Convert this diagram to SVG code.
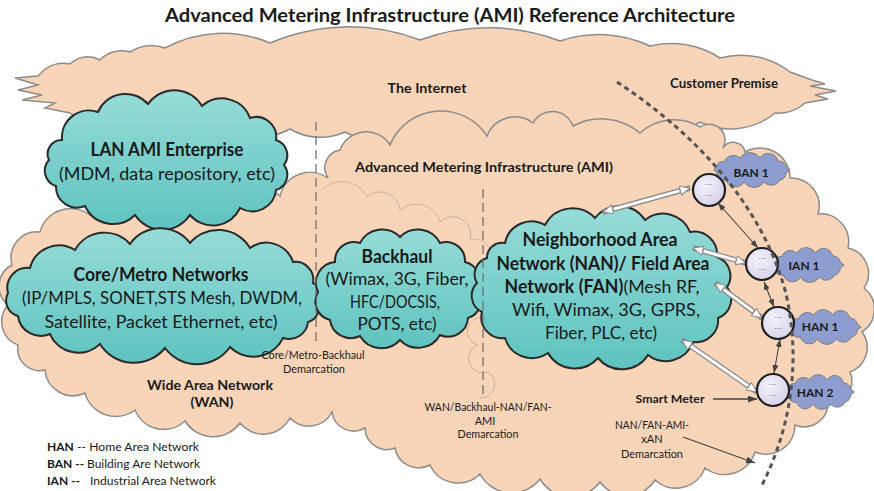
<svg xmlns="http://www.w3.org/2000/svg" width="874" height="491" viewBox="0 0 874 491">
<defs>
<style>
text{font-family:Lato,"Open Sans","Liberation Sans",sans-serif;fill:#1a1a1a;text-anchor:middle}
.b{font-weight:bold}
.peach{fill:#f8d5b8;stroke:#8c8c8c;stroke-width:1.5}
.teal{fill:url(#tealG);stroke:#2a2a2a;stroke-width:2}
.lav{fill:#8e9dcf;stroke:#7a7a7a;stroke-width:1}
.node{fill:url(#nodeG);stroke:#1f1f1f;stroke-width:2.2}
.dash{fill:none;stroke:#6a6a6a;stroke-width:1.2;stroke-dasharray:9 5}
.thin{fill:none;stroke:#444;stroke-width:1.1;marker-start:url(#sm);marker-end:url(#sm)}
.hollowO{fill:none;stroke:#8a8a8a;stroke-width:5.5;marker-start:url(#hh);marker-end:url(#hh)}
.hollowI{fill:none;stroke:#fff;stroke-width:3}
.pt{fill:#1a1a1a;stroke:#444;stroke-width:1.3;marker-end:url(#sm2)}
.nd{font-size:7px;fill:#777}
.sc{font-size:12px;font-weight:bold}
.s11{font-size:11px}
.big{font-size:18px}
</style>
<linearGradient id="tealG" x1="0" y1="0" x2="0" y2="1">
<stop offset="0" stop-color="#97dcd8"/>
<stop offset="1" stop-color="#5ec3bf"/>
</linearGradient>
<radialGradient id="nodeG" cx="0.4" cy="0.35" r="0.7">
<stop offset="0" stop-color="#f4f2fa"/>
<stop offset="1" stop-color="#d6d1ea"/>
</radialGradient>
<marker id="hh" viewBox="0 0 11 10" markerUnits="userSpaceOnUse" markerWidth="11" markerHeight="10" refX="10.5" refY="5" orient="auto-start-reverse">
<path d="M0.5,0.5 L10.5,5 L0.5,9.5 Z" fill="#fff" stroke="#8a8a8a" stroke-width="1"/>
</marker>
<marker id="sm" viewBox="0 0 8 6" markerUnits="userSpaceOnUse" markerWidth="8" markerHeight="6" refX="8" refY="3" orient="auto-start-reverse">
<path d="M0,0 L8,3 L0,6 Z" fill="#444"/>
</marker>
<marker id="sm2" viewBox="0 0 9 7" markerUnits="userSpaceOnUse" markerWidth="9" markerHeight="7" refX="9" refY="3.5" orient="auto">
<path d="M0,0 L9,3.5 L0,7 Z" fill="#444"/>
</marker>
<path id="smallCloud" d="M -28,-8 A 10,10 0 0 1 -12,-12 A 12,12 0 0 1 8,-12 A 10,10 0 0 1 26,-9 A 8,8 0 0 1 34,-3 L 38,0 L 34,3 A 7,7 0 0 1 28,10 A 10,10 0 0 1 12,12 A 12,12 0 0 1 -8,12 A 10,10 0 0 1 -26,10 A 7,7 0 0 1 -35,3 L -38,0 L -35,-4 A 5,5 0 0 1 -28,-8 Z"/>
</defs>

<text class="b" x="450" y="22" font-size="19" textLength="570" lengthAdjust="spacingAndGlyphs">Advanced Metering Infrastructure (AMI) Reference Architecture</text>

<g id="internet">
<path class="peach" d="M 42,72 A 30,30 0 0 1 70,64 A 25,25 0 0 1 100,60 A 30,30 0 0 1 130,52 A 40,40 0 0 1 165,48 A 120,120 0 0 1 270,43 A 200,200 0 0 1 420,40 A 200,200 0 0 1 560,41 A 120,120 0 0 1 650,46 A 90,90 0 0 1 720,58 A 80,80 0 0 1 790,72 L 812,80 L 825,84 L 810,86 L 836,91 L 815,95 L 828,99 L 805,103 A 40,40 0 0 1 775,113 A 70,70 0 0 1 700,122 A 120,120 0 0 1 580,128 A 150,150 0 0 1 440,131 A 100,100 0 0 1 345,132 A 60,60 0 0 1 290,129 A 80,80 0 0 1 210,126 A 80,80 0 0 1 130,120 A 60,60 0 0 1 70,113 L 45,108 L 55,103 L 22,100 L 42,95 L 18,90 L 38,85 L 15,78 L 38,76 Z"/>
<text class="b" x="427" y="93" font-size="13" textLength="79" lengthAdjust="spacingAndGlyphs">The Internet</text>
<text class="b" x="724" y="88" font-size="13" textLength="108" lengthAdjust="spacingAndGlyphs">Customer Premise</text>
</g>

<g id="wan-ami">
<path class="peach" d="M 12,265 A 26,26 0 0 1 40,232 A 32,32 0 0 1 90,215 A 36,36 0 0 1 150,212 A 42,42 0 0 1 220,212 A 37,37 0 0 1 280,196 A 31,31 0 0 1 328,178 A 18,18 0 0 1 340,150 A 28,28 0 0 1 390,145 A 55,55 0 0 1 487,136 A 30,30 0 0 1 533,123 A 22,22 0 0 1 573,126 A 60,60 0 0 1 640,133 A 50,50 0 0 1 700,127 A 16,16 0 0 1 723,148 A 12,12 0 0 1 745,152 A 30,30 0 0 1 790,178 A 28,28 0 0 1 818,214 A 28,28 0 0 1 848,248 A 26,26 0 0 1 864,288 A 27,27 0 0 1 862,332 A 26,26 0 0 1 850,372 A 24,24 0 0 1 828,405 A 24,24 0 0 1 795,425 A 29,29 0 0 1 755,452 A 32,32 0 0 1 705,468 A 31,31 0 0 1 655,480 A 33,33 0 0 1 600,482 A 36,36 0 0 1 540,479 A 36,36 0 0 1 480,474 A 31,31 0 0 1 430,465 A 24,24 0 0 1 395,448 A 22,22 0 0 1 365,428 A 22,22 0 0 1 332,412 A 26,26 0 0 1 290,418 A 30,30 0 0 1 240,423 A 33,33 0 0 1 185,421 A 31,31 0 0 1 135,410 A 32,32 0 0 1 85,393 A 28,28 0 0 1 45,370 A 22,22 0 0 1 18,345 A 25,25 0 0 1 8,305 A 24,24 0 0 1 12,265 Z"/>
<path d="M 322,190 A 28,28 0 0 1 367,197 A 20,20 0 0 1 400,210 A 25,25 0 0 1 440,222 A 18,18 0 0 1 470,240 A 15,15 0 0 1 488,262 M 484,318 A 12,12 0 0 0 478,345 A 12,12 0 0 0 488,372 A 14,14 0 0 1 480,398" fill="none" stroke="#a89a8c" stroke-width="1" opacity="0.6"/>
<text class="b" x="484" y="172" font-size="14" textLength="258" lengthAdjust="spacingAndGlyphs">Advanced Metering Infrastructure (AMI)</text>
<text class="b" x="210" y="390" font-size="14" textLength="126" lengthAdjust="spacingAndGlyphs">Wide Area Network</text>
<text class="b" x="212" y="407" font-size="14" textLength="43" lengthAdjust="spacingAndGlyphs">(WAN)</text>
</g>

<g id="lan">
<path class="teal" d="M 62,140 A 27,27 0 0 1 98,112 A 30,30 0 0 1 148,104 A 32,32 0 0 1 202,106 A 30,30 0 0 1 250,118 A 20,20 0 0 1 276,140 A 16,16 0 0 1 284,165 A 16,16 0 0 1 276,190 A 24,24 0 0 1 240,208 A 30,30 0 0 1 190,215 A 33,33 0 0 1 135,215 A 31,31 0 0 1 85,206 A 21,21 0 0 1 56,186 A 16,16 0 0 1 49,160 A 14,14 0 0 1 62,140 Z"/>
<text class="b big" x="167" y="156" textLength="153" lengthAdjust="spacingAndGlyphs">LAN AMI Enterprise</text>
<text class="big" x="167" y="180" textLength="216" lengthAdjust="spacingAndGlyphs">(MDM, data repository, etc)</text>
</g>

<g id="core">
<path class="teal" d="M 30,268 A 30,30 0 0 1 75,250 A 34,34 0 0 1 130,244 A 37,37 0 0 1 190,243 A 37,37 0 0 1 250,248 A 28,28 0 0 1 293,262 A 18,18 0 0 1 313,283 A 12,12 0 0 1 317,302 A 14,14 0 0 1 308,322 A 19,19 0 0 1 283,338 A 33,33 0 0 1 230,347 A 40,40 0 0 1 165,348 A 40,40 0 0 1 100,344 A 31,31 0 0 1 50,334 A 23,23 0 0 1 18,316 A 16,16 0 0 1 8,293 A 20,20 0 0 1 30,268 Z"/>
<text class="b big" x="161" y="281" textLength="175" lengthAdjust="spacingAndGlyphs">Core/Metro Networks</text>
<text class="big" x="162" y="304" textLength="280" lengthAdjust="spacingAndGlyphs">(IP/MPLS, SONET,STS Mesh, DWDM,</text>
<text class="big" x="161" y="328" textLength="233" lengthAdjust="spacingAndGlyphs">Satellite, Packet Ethernet, etc)</text>
</g>

<g id="backhaul">
<path class="teal" d="M 335,262 A 19,19 0 0 1 360,243 A 25,25 0 0 1 400,237 A 25,25 0 0 1 440,243 A 19,19 0 0 1 465,262 A 19,19 0 0 1 477,290 A 18,18 0 0 1 468,318 A 20,20 0 0 1 440,335 A 25,25 0 0 1 400,340 A 25,25 0 0 1 360,336 A 21,21 0 0 1 330,320 A 19,19 0 0 1 318,292 A 21,21 0 0 1 335,262 Z"/>
<text class="b big" x="397" y="263" textLength="71" lengthAdjust="spacingAndGlyphs">Backhaul</text>
<text class="big" x="397" y="285" textLength="143" lengthAdjust="spacingAndGlyphs">(Wimax, 3G, Fiber,</text>
<text class="big" x="395" y="308" textLength="90" lengthAdjust="spacingAndGlyphs">HFC/DOCSIS,</text>
<text class="big" x="397" y="330" textLength="79" lengthAdjust="spacingAndGlyphs">POTS, etc)</text>
</g>

<g id="nan">
<path class="teal" stroke-width="2.6" d="M 505,243 A 27,27 0 0 1 545,225 A 31,31 0 0 1 595,218 A 31,31 0 0 1 645,220 A 29,29 0 0 1 690,232 A 23,23 0 0 1 717,257 A 20,20 0 0 1 727,287 A 20,20 0 0 1 718,318 A 22,22 0 0 1 693,342 A 29,29 0 0 1 648,355 A 31,31 0 0 1 598,358 A 31,31 0 0 1 548,353 A 28,28 0 0 1 505,338 A 21,21 0 0 1 482,312 A 18,18 0 0 1 477,283 A 17,17 0 0 1 487,258 A 15,15 0 0 1 505,243 Z"/>
<text class="b big" x="600" y="246" textLength="155" lengthAdjust="spacingAndGlyphs">Neighborhood Area</text>
<text class="b big" x="603" y="270" textLength="213" lengthAdjust="spacingAndGlyphs">Network (NAN)/ Field Area</text>
<text class="big" x="602" y="293" textLength="195" lengthAdjust="spacingAndGlyphs"><tspan class="b">Network (FAN)</tspan>(Mesh RF,</text>
<text class="big" x="606" y="316" textLength="188" lengthAdjust="spacingAndGlyphs">Wifi, Wimax, 3G, GPRS,</text>
<text class="big" x="601" y="339" textLength="112" lengthAdjust="spacingAndGlyphs">Fiber, PLC, etc)</text>
</g>

<g id="demarcations">
<line class="dash" x1="316" y1="122" x2="316" y2="346"/>
<line class="dash" x1="483" y1="189" x2="483" y2="396"/>
<text class="s11" x="313" y="359" textLength="103" lengthAdjust="spacingAndGlyphs">Core/Metro-Backhaul</text>
<text class="s11" x="314" y="373" textLength="62" lengthAdjust="spacingAndGlyphs">Demarcation</text>
<text class="s11" x="488" y="411" textLength="127" lengthAdjust="spacingAndGlyphs">WAN/Backhaul-NAN/FAN-</text>
<text class="s11" x="485" y="425">AMI</text>
<text class="s11" x="488" y="438" textLength="61" lengthAdjust="spacingAndGlyphs">Demarcation</text>
<text class="s11" x="652" y="429" textLength="74" lengthAdjust="spacingAndGlyphs">NAN/FAN-AMI-</text>
<text class="s11" x="652" y="443">xAN</text>
<text class="s11" x="652" y="458" textLength="62" lengthAdjust="spacingAndGlyphs">Demarcation</text>
</g>

<g id="small-clouds">
<g id="ban1-cloud"><use href="#smallCloud" class="lav" transform="translate(752,170)"/><text class="sc" x="751" y="177">BAN 1</text></g>
<g id="ian1-cloud"><use href="#smallCloud" class="lav" transform="translate(808,265) scale(0.95,1)"/><text class="sc" x="804" y="270">IAN 1</text></g>
<g id="han1-cloud"><use href="#smallCloud" class="lav" transform="translate(825,327) scale(0.95,1)"/><text class="sc" x="820" y="331">HAN 1</text></g>
<g id="han2-cloud"><use href="#smallCloud" class="lav" transform="translate(820,392) scale(0.9,1)"/><text class="sc" x="815" y="397">HAN 2</text></g>
</g>

<g id="connectors">
<path class="hollowO" d="M 603,212 L 690,188"/>
<path class="hollowI" d="M 613.6,209.1 L 679.4,190.9"/>
<path class="hollowO" d="M 693,248 L 746,263"/>
<path class="hollowI" d="M 703.6,251 L 735.4,260"/>
<path class="hollowO" d="M 715,283 L 762,318"/>
<path class="hollowI" d="M 723.8,289.6 L 753.2,311.4"/>
<path class="hollowO" d="M 682,340 L 757,392"/>
<path class="hollowI" d="M 691,346.3 L 748,385.7"/>
<path class="thin" d="M 718,203 L 758,248"/>
<path class="thin" d="M 764,282 L 774,307"/>
<path class="thin" d="M 780,339 L 774,373"/>
<path class="pt" d="M 713,399 L 757,399"/>
<path class="pt" d="M 683,437 L 755,463"/>
</g>

<g id="ban-node"><circle class="node" cx="709" cy="190" r="16"/><text class="nd" x="709" y="187">---</text><text class="nd" x="709" y="198">---</text></g>
<g id="ian-node"><circle class="node" cx="762" cy="264" r="16"/><text class="nd" x="762" y="261">---</text><text class="nd" x="762" y="272">---</text></g>
<g id="han1-node"><circle class="node" cx="778" cy="323" r="16"/><text class="nd" x="778" y="320">---</text><text class="nd" x="778" y="331">---</text></g>
<g id="han2-node"><circle class="node" cx="773" cy="390" r="16"/><text class="nd" x="773" y="387">---</text><text class="nd" x="773" y="398">---</text></g>

<path id="customer-boundary" d="M 617,82 C 690,130 760,200 785,290 C 800,350 795,420 762,485" fill="none" stroke="#555" stroke-width="3" stroke-dasharray="5 4"/>

<text class="sc" x="670" y="403" textLength="69" lengthAdjust="spacingAndGlyphs">Smart Meter</text>

<g id="legend">
<text class="b" x="47" y="451" style="text-anchor:start;font-size:12px">HAN</text>
<text x="77" y="451" style="text-anchor:start;font-size:12px" textLength="122" lengthAdjust="spacingAndGlyphs">-- Home Area Network</text>
<text class="b" x="47" y="468" style="text-anchor:start;font-size:12px">BAN --</text>
<text x="87" y="468" style="text-anchor:start;font-size:12px" textLength="113" lengthAdjust="spacingAndGlyphs">Building Are Network</text>
<text class="b" x="47" y="485" style="text-anchor:start;font-size:12px">IAN --</text>
<text x="90" y="485" style="text-anchor:start;font-size:12px" textLength="126" lengthAdjust="spacingAndGlyphs">Industrial Area Network</text>
</g>
</svg>
